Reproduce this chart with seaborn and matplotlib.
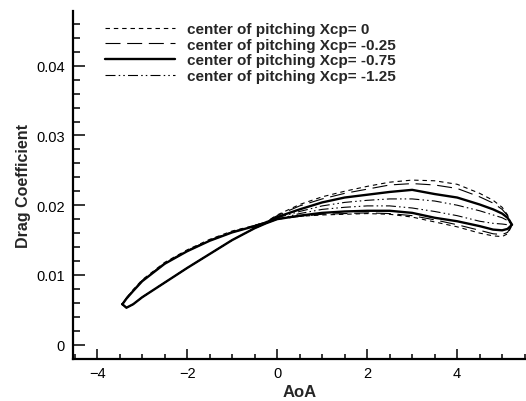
import matplotlib
matplotlib.use("Agg")
import matplotlib.pyplot as plt
from matplotlib.ticker import MultipleLocator, FixedLocator
import numpy as np
import pandas as pd
import seaborn as sns

# Angle of attack stations shared by both branches of each hysteresis loop
aoa = [-3.44, -3.35, -3.20, -3.00, -2.50, -2.00, -1.50, -1.00, -0.50, -0.25, 0.00,
       0.50, 1.00, 1.50, 2.00, 2.50, 3.00, 3.50, 4.00, 4.50, 4.80, 5.00, 5.12, 5.22]

# Drag coefficient on the upper and lower branch of each loop
cd_upper_0 = [0.0058, 0.0067, 0.0079, 0.0093, 0.0118, 0.0136, 0.0151, 0.0163, 0.0171, 0.0176, 0.0186,
              0.0201, 0.0212, 0.0220, 0.0227, 0.0233, 0.0236, 0.0235, 0.0230, 0.0217, 0.0207, 0.0197, 0.0186, 0.0171]
cd_lower_0 = [0.0058, 0.0053, 0.0058, 0.0068, 0.0089, 0.0110, 0.0130, 0.0150, 0.0167, 0.0174, 0.0180,
              0.0184, 0.0186, 0.0187, 0.0188, 0.0187, 0.0183, 0.0176, 0.0169, 0.0160, 0.0156, 0.0155, 0.0159, 0.0171]

cd_upper_025 = [0.0058, 0.0067, 0.0078, 0.0092, 0.0117, 0.0135, 0.0150, 0.0162, 0.0171, 0.0176, 0.0185,
                0.0199, 0.0209, 0.0217, 0.0223, 0.0229, 0.0231, 0.0229, 0.0224, 0.0212, 0.0203, 0.0194, 0.0185, 0.0172]
cd_lower_025 = [0.0058, 0.0053, 0.0058, 0.0068, 0.0089, 0.0110, 0.0130, 0.0150, 0.0167, 0.0174, 0.0180,
                0.0184, 0.0187, 0.0188, 0.0189, 0.0188, 0.0185, 0.0179, 0.0172, 0.0164, 0.0159, 0.0158, 0.0161, 0.0172]

cd_upper_075 = [0.0058, 0.0066, 0.0077, 0.0091, 0.0116, 0.0134, 0.0149, 0.0161, 0.0170, 0.0175, 0.0183,
                0.0194, 0.0204, 0.0211, 0.0215, 0.0219, 0.0222, 0.0216, 0.0211, 0.0201, 0.0194, 0.0188, 0.0182, 0.0172]
cd_lower_075 = [0.0058, 0.0053, 0.0058, 0.0068, 0.0089, 0.0110, 0.0130, 0.0150, 0.0167, 0.0174, 0.0180,
                0.0185, 0.0189, 0.0191, 0.0192, 0.0192, 0.0189, 0.0182, 0.0177, 0.0170, 0.0165, 0.0164, 0.0166, 0.0172]

cd_upper_125 = [0.0058, 0.0066, 0.0077, 0.0091, 0.0116, 0.0134, 0.0149, 0.0161, 0.0170, 0.0175, 0.0182,
                0.0191, 0.0199, 0.0204, 0.0207, 0.0209, 0.0209, 0.0206, 0.0200, 0.0192, 0.0186, 0.0182, 0.0178, 0.0172]
cd_lower_125 = [0.0058, 0.0053, 0.0058, 0.0068, 0.0089, 0.0110, 0.0130, 0.0150, 0.0167, 0.0174, 0.0180,
                0.0188, 0.0194, 0.0197, 0.0199, 0.0199, 0.0196, 0.0191, 0.0185, 0.0177, 0.0174, 0.0173, 0.0172, 0.0172]

labels = ["center of pitching Xcp= 0",
          "center of pitching Xcp= -0.25",
          "center of pitching Xcp= -0.75",
          "center of pitching Xcp= -1.25"]

x_ticks = [-4, -2, 0, 2, 4]
y_ticks = [0, 0.01, 0.02, 0.03, 0.04]
y_tick_labels = ["0", "0.01", "0.02", "0.03", "0.04"]

sns.set_theme(style="white")
plt.rcParams["font.family"] = ["Liberation Sans", "DejaVu Sans"]
plt.rcParams["lines.scale_dashes"] = False

fig = plt.figure(figsize=(5.26, 4.02), dpi=100)
ax = fig.add_axes([0.1394, 0.1045, 0.8606, 0.8649])

branches = [(cd_upper_0, cd_lower_0), (cd_upper_025, cd_lower_025),
            (cd_upper_075, cd_lower_075), (cd_upper_125, cd_lower_125)]
widths = [0.8, 0.8, 1.7, 0.8]
dash_patterns = [(3.2, 2.8), (10.8, 4.8), None, (7.2, 2.3, 1.1, 2.2, 1.1, 2.3)]

for (up, lo), lab, lw, dp in zip(branches, labels, widths, dash_patterns):
    # closed loop: along the upper branch, back along the lower branch
    loop = pd.DataFrame({
        "AoA": list(aoa) + list(aoa[::-1]),
        "Cd": list(up) + list(lo[::-1]),
    })
    sns.lineplot(data=loop, x="AoA", y="Cd", sort=False, estimator=None,
                 color="black", linewidth=lw, label=lab, ax=ax)
    line = ax.lines[-1]
    line.set_solid_joinstyle("round")
    if dp is not None:
        line.set_dashes(dp)

ax.set_xlim(-4.53, 5.53)
ax.set_ylim(-0.00205, 0.0478)

ax.xaxis.set_major_locator(FixedLocator(x_ticks))
ax.xaxis.set_minor_locator(MultipleLocator(0.5))
ax.yaxis.set_major_locator(FixedLocator(y_ticks))
ax.set_yticklabels(y_tick_labels)
ax.yaxis.set_minor_locator(MultipleLocator(0.002))

ax.tick_params(axis="both", which="both", direction="in", color="black", width=1.1,
               labelsize=10.5, labelcolor="black")
ax.tick_params(axis="x", which="major", length=7.2, pad=5)
ax.tick_params(axis="x", which="minor", length=3.6)
ax.tick_params(axis="y", which="major", length=8.4, pad=6)
ax.tick_params(axis="y", which="minor", length=4.8)
ax.tick_params(axis="both", which="both", bottom=True, left=True, top=False, right=False)

for side in ["top", "right"]:
    ax.spines[side].set_visible(False)
for side in ["left", "bottom"]:
    ax.spines[side].set_color("black")
    ax.spines[side].set_linewidth(1.6)

ax.set_xlabel("AoA", fontsize=12, fontweight="bold", labelpad=3)
ax.set_ylabel("Drag Coefficient", fontsize=11.5, fontweight="bold", labelpad=4)

leg = ax.legend(loc="upper left", bbox_to_anchor=(105 / 526, 1 - 23 / 402),
                bbox_transform=fig.transFigure, frameon=False, borderpad=0,
                borderaxespad=0, handlelength=4.6, handletextpad=0.75,
                labelspacing=0.11, prop={"size": 11, "weight": "bold"})

fig.savefig("out.png", dpi=100)
